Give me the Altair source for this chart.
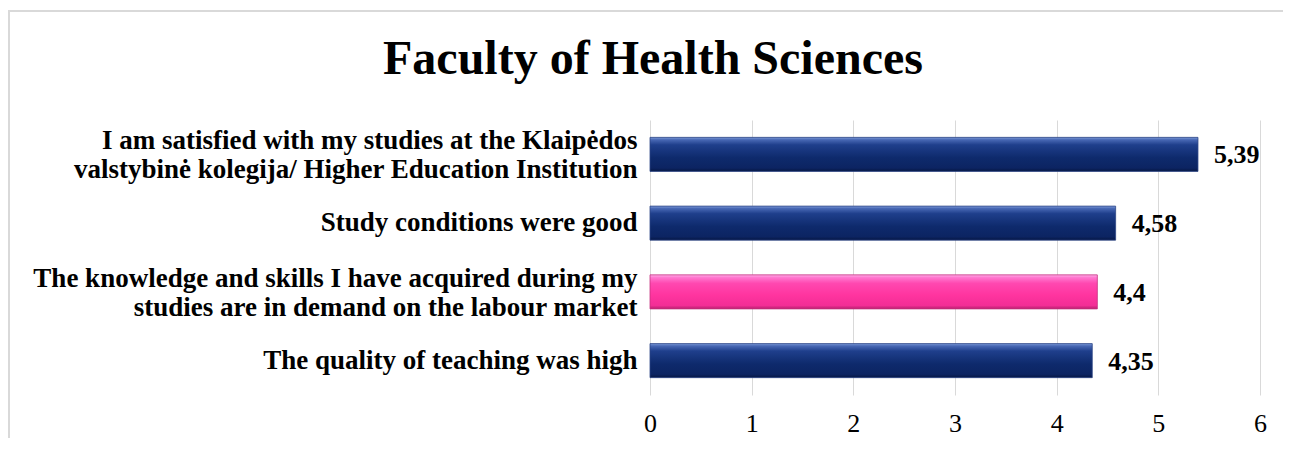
import altair as alt
import pandas as pd

categories = [
    "I am satisfied with my studies at the Klaipėdos|valstybinė kolegija/ Higher Education Institution",
    "Study conditions were good",
    "The knowledge and skills I have acquired during my|studies are in demand on the labour market",
    "The quality of teaching was high",
]
values = [5.39, 4.58, 4.4, 4.35]
groups = ["navy", "navy", "pink", "navy"]
value_labels = [str(v).replace(".", ",") for v in values]
x_ticks = [0, 1, 2, 3, 4, 5, 6]

df = pd.DataFrame({"cat": categories, "val": values, "grp": groups, "lbl": value_labels})

navy_grad = {
    "gradient": "linear", "x1": 0, "y1": 0, "x2": 0, "y2": 1,
    "stops": [
        {"offset": 0.0, "color": "#7d9ad8"},
        {"offset": 0.07, "color": "#4868b4"},
        {"offset": 0.22, "color": "#1f3f8c"},
        {"offset": 0.6, "color": "#0e2a6c"},
        {"offset": 0.9, "color": "#0c2462"},
        {"offset": 1.0, "color": "#061744"},
    ],
}
pink_grad = {
    "gradient": "linear", "x1": 0, "y1": 0, "x2": 0, "y2": 1,
    "stops": [
        {"offset": 0.0, "color": "#ffb0ea"},
        {"offset": 0.08, "color": "#ff77cf"},
        {"offset": 0.25, "color": "#ff48b0"},
        {"offset": 0.6, "color": "#ff349f"},
        {"offset": 0.9, "color": "#f22e96"},
        {"offset": 1.0, "color": "#b8206f"},
    ],
}

FONT = "Liberation Serif"

y_enc = alt.Y(
    "cat:N",
    sort=None,
    title=None,
    scale=alt.Scale(paddingInner=0.505, paddingOuter=0.2525),
    axis=alt.Axis(
        domain=False, ticks=False, grid=False,
        labelExpr="split(datum.label, '|')",
        labelFont=FONT, labelFontSize=27, labelFontWeight="bold",
        labelColor="black", labelLineHeight=29, labelPadding=13,
        labelLimit=0, labelAlign="right",
        labelOffset={"condition": {"test": "indexof(datum.value, '|') >= 0", "value": -13}, "value": 0},
    ),
)
x_enc = alt.X(
    "val:Q",
    title=None,
    scale=alt.Scale(domain=[0, 6], nice=False),
    axis=alt.Axis(
        values=x_ticks, format="d", domain=False, ticks=False, grid=True,
        gridColor="#d9d9d9", gridWidth=1,
        labelFont=FONT, labelFontSize=26, labelColor="black",
        labelPadding=15, labelFlush=False,
    ),
)

bars = alt.Chart(df).mark_bar(strokeWidth=0.8).encode(
    y=y_enc,
    x=x_enc,
    fill=alt.condition("datum.grp == 'pink'", alt.value(pink_grad), alt.value(navy_grad)),
    stroke=alt.condition("datum.grp == 'pink'", alt.value("#c4307f"), alt.value("#2c4585")),
)

texts = alt.Chart(df).mark_text(
    align="left", baseline="middle", dx=16, dy=1,
    font=FONT, fontSize=26, fontWeight="bold", color="black",
).encode(y=alt.Y("cat:N", sort=None), x=alt.X("val:Q"), text="lbl:N")

frame = alt.Chart(df).mark_rect(
    fill=None, stroke="#d9d9d9", strokeWidth=1.5
).encode(
    x=alt.value(-641), x2=alt.value(700),
    y=alt.value(-109), y2=alt.value(400),
)

chart = alt.layer(frame, bars, texts).properties(
    width=610,
    height=275,
    padding={"left": 642, "top": 112, "right": 23, "bottom": 43},
    autosize=alt.AutoSizeParams(type="none"),
    title=alt.TitleParams(
        "Faculty of Health Sciences",
        font=FONT, fontSize=48, fontWeight="bold", color="black",
        anchor="middle", frame="group", baseline="alphabetic",
        offset=-112, dx=-302,
    ),
).configure_view(stroke=None)

chart.save("out.html", embed_options={"renderer": "svg", "actions": False})
